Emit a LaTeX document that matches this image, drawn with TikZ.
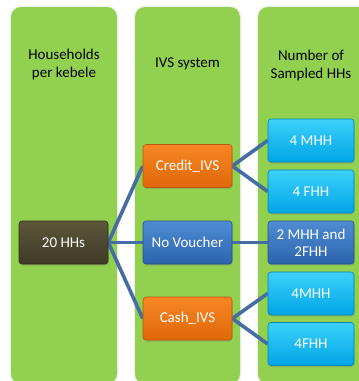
\documentclass[tikz,border=0pt]{standalone}
\usepackage{fontspec}
\setmainfont{Carlito}
\usetikzlibrary{shadows}
\pgfdeclarelayer{bg}
\pgfdeclarelayer{links}
\pgfsetlayers{bg,links,main}
\definecolor{colgreen}{RGB}{146,208,80}
\definecolor{linkblue}{RGB}{70,108,165}
\definecolor{orgtop}{RGB}{246,134,36}
\definecolor{orgbot}{RGB}{224,104,8}
\definecolor{blutop}{RGB}{78,140,212}
\definecolor{blubot}{RGB}{44,100,172}
\definecolor{cyntop}{RGB}{60,208,250}
\definecolor{cynbot}{RGB}{0,166,230}
\definecolor{brntop}{RGB}{92,86,58}
\definecolor{brnbot}{RGB}{62,58,38}
\tikzset{
  column/.style={fill=colgreen, rounded corners=10pt, draw=none},
  colshadow/.style={fill=black, opacity=0.05, rounded corners=11pt, draw=none},
  header/.style={align=center, font=\fontsize{15}{18}\selectfont, text=black},
  boxbase/.style={rectangle, rounded corners=3pt, align=center, text=white,
    font=\fontsize{15}{17}\selectfont, inner sep=1pt,
    drop shadow={shadow xshift=0.6pt, shadow yshift=-1.6pt, opacity=0.35}},
  midbox/.style={boxbase, minimum width=89pt, minimum height=43pt},
  rightbox/.style={boxbase, minimum width=86pt, minimum height=43pt},
  orangebox/.style={top color=orgtop, bottom color=orgbot, draw=orgbot!85!black, line width=0.6pt},
  bluebox/.style={top color=blutop, bottom color=blubot, draw=blubot!80!black, line width=0.6pt},
  cyanbox/.style={top color=cyntop, bottom color=cynbot, draw=cynbot!80!black, line width=0.6pt},
  brownbox/.style={top color=brntop, bottom color=brnbot, draw=brnbot!80!black, line width=0.6pt},
  link/.style={draw=linkblue, line width=3.6pt}
}
\begin{document}
\begin{tikzpicture}[x=1pt,y=-1pt]
\useasboundingbox (0,0) rectangle (359,381);
\clip (0,0) rectangle (359,381);
\begin{pgfonlayer}{bg}
\fill[white] (0,0) rectangle (359,381);
% column shadows
\fill[colshadow] (9.5,5.5) rectangle (118.5,386);
\fill[colshadow] (133.5,5.5) rectangle (241.5,386);
\fill[colshadow] (256.5,5.5) rectangle (375,386);
% columns
\fill[column] (11,7) rectangle (117,384);
\fill[column] (135,7) rectangle (240,384);
\fill[column] (258,7) rectangle (372,384);
\end{pgfonlayer}
% headers
\node[header] (h1) at (64,64) {Households\\per kebele};
\node[header] (h2) at (187.5,64) {IVS system};
\node[header] (h3) at (311,65) {Number of\\Sampled HHs};
% boxes
\node[midbox, brownbox] (hh) at (63.5,242.5) {20 HHs};
\node[midbox, orangebox] (credit) at (187.5,166) {Credit\_IVS};
\node[midbox, bluebox] (novo) at (187.5,242.5) {No Voucher};
\node[midbox, orangebox] (cash) at (187.5,318.5) {Cash\_IVS};
\node[rightbox, cyanbox] (m1) at (311,140.5) {4 MHH};
\node[rightbox, cyanbox] (f1) at (311,191.5) {4 FHH};
\node[rightbox, bluebox] (mix) at (311,242.5) {2 MHH and\\2FHH};
\node[rightbox, cyanbox] (m2) at (311,293.5) {4MHH};
\node[rightbox, cyanbox] (f2) at (311,344) {4FHH};
% connectors
\begin{pgfonlayer}{links}
\draw[link] (hh.east) -- (credit.west);
\draw[link] (hh.east) -- (novo.west);
\draw[link] (hh.east) -- (cash.west);
\draw[link] (credit.east) -- (m1.west);
\draw[link] (credit.east) -- (f1.west);
\draw[link] (novo.east) -- (mix.west);
\draw[link] (cash.east) -- (m2.west);
\draw[link] (cash.east) -- (f2.west);
\end{pgfonlayer}
\end{tikzpicture}
\end{document}
